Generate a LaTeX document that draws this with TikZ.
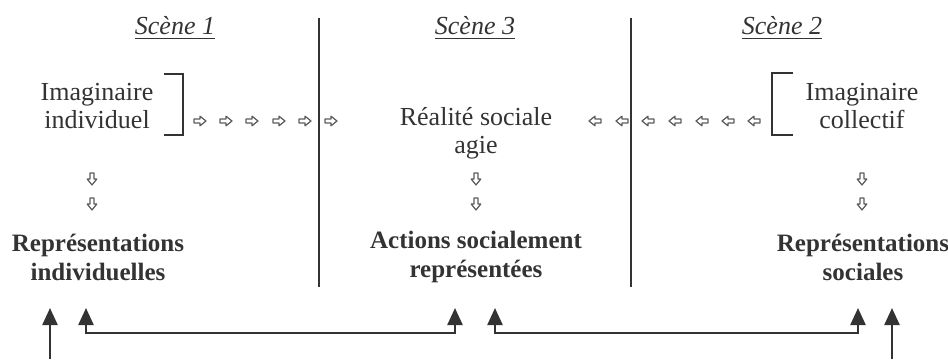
\documentclass[tikz,border=0pt]{standalone}
\usepackage{fontspec}
\setmainfont{Liberation Serif}
\usetikzlibrary{arrows.meta}
\definecolor{ink}{gray}{0.2}
\tikzset{
  txt/.style={align=center, text=ink, inner sep=0pt, font=\fontsize{13}{14}\selectfont},
  btxt/.style={align=center, text=ink, inner sep=0pt, font=\fontsize{12.5}{14.5}\selectfont\bfseries},
  scene/.style={text=ink, inner sep=0pt, font=\fontsize{13}{14}\selectfont\itshape},
  sep/.style={draw=ink, line width=1.3pt},
  brk/.style={draw=ink, line width=0.8pt},
  link/.style={draw=ink, line width=1.2pt, -{Triangle[length=8.5pt,width=7.5pt]}},
  pics/harrow/.style={code={
    \draw[draw=ink!80, line width=0.6pt, line join=round]
      (-6,-2) -- (0,-2) -- (0,-4.8) -- (6,0) -- (0,4.8) -- (0,2) -- (-6,2) -- cycle;}}
}
\begin{document}
\begin{tikzpicture}[x=0.5pt, y=-0.5pt]
\useasboundingbox (0,0) rectangle (948,359);
% separators
\coordinate (s1t) at (319,18); \coordinate (s1b) at (319,287);
\coordinate (s2t) at (631,18); \coordinate (s2b) at (631,287);
\draw[sep] (s1t) -- (s1b);
\draw[sep] (s2t) -- (s2b);
% scene titles
\node[scene] (sc1) at (175,28) {\underline{Scène 1}};
\node[scene] (sc3) at (475,28) {\underline{Scène 3}};
\node[scene] (sc2) at (782,28) {\underline{Scène 2}};
% upper texts
\node[txt] (ii) at (97,106) {Imaginaire\\individuel};
\node[txt] (rs) at (476,133) {Réalité sociale\\agie};
\node[txt] (ic) at (862,106) {Imaginaire\\collectif};
% brackets
\coordinate (b1a) at (164,74); \coordinate (b1b) at (183,74);
\coordinate (b1c) at (183,135); \coordinate (b1d) at (164,135);
\draw[brk] (b1a) -- (b1b) -- (b1c) -- (b1d);
\coordinate (b2a) at (793,73); \coordinate (b2b) at (772,73);
\coordinate (b2c) at (772,135); \coordinate (b2d) at (793,135);
\draw[brk] (b2a) -- (b2b) -- (b2c) -- (b2d);
% hollow arrows, right
\foreach \x in {200,226,252,279,305,331} \pic at (\x,121) {harrow};
% hollow arrows, left
\foreach \x in {595,622,648,675,702,728,754} \pic[rotate=180] at (\x,121) {harrow};
% hollow arrows, down
\foreach \x in {92,476,862} {
  \pic[rotate=-90] at (\x,179) {harrow};
  \pic[rotate=-90] at (\x,204) {harrow};
}
% lower texts
\node[btxt] (ri) at (98,257) {Représentations\\individuelles};
\node[btxt] (as) at (476,257) {Actions socialement\\représentées};
\node[btxt] (rso) at (863,257) {Représentations\\sociales};
% bottom connectors
\coordinate (a1s) at (50,359); \coordinate (a1t) at (50,308);
\coordinate (a4s) at (892,359); \coordinate (a4t) at (892,308);
\coordinate (l1a) at (86,308); \coordinate (l1b) at (455,308);
\coordinate (l2a) at (495,308); \coordinate (l2b) at (858,308);
\draw[link] (a1s) -- (a1t);
\draw[link] (a4s) -- (a4t);
\draw[link, {Triangle[length=8.5pt,width=7.5pt]}-{Triangle[length=8.5pt,width=7.5pt]}] (l1a) -- (86,333) -- (455,333) -- (l1b);
\draw[link, {Triangle[length=8.5pt,width=7.5pt]}-{Triangle[length=8.5pt,width=7.5pt]}] (l2a) -- (495,333) -- (858,333) -- (l2b);
\end{tikzpicture}
\end{document}
